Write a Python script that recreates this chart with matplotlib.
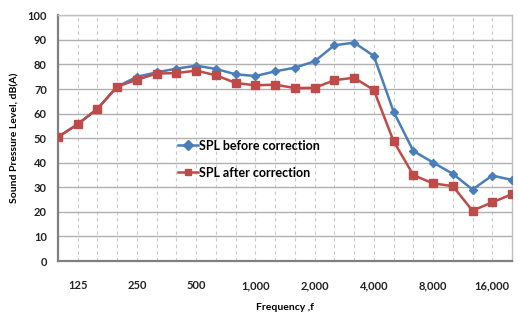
import matplotlib
matplotlib.use("Agg")
import matplotlib.pyplot as plt

# one-third octave bands, Hz
bands = ["100", "125", "160", "200", "250", "315", "400", "500", "630", "800",
         "1,000", "1,250", "1,600", "2,000", "2,500", "3,150", "4,000", "5,000",
         "6,300", "8,000", "10,000", "12,500", "16,000", "20,000"]
spl_before = [50.5, 55.7, 62.0, 71.0, 75.0, 76.8, 78.3, 79.5, 78.2, 76.0,
              75.3, 77.2, 78.7, 81.3, 87.8, 88.9, 83.5, 60.8,
              44.8, 40.1, 35.5, 29.1, 34.8, 33.0]
spl_after = [50.5, 55.7, 62.0, 71.0, 73.8, 76.3, 76.5, 77.5, 75.6, 72.5,
             71.5, 71.8, 70.4, 70.5, 73.6, 74.6, 69.6, 48.8,
             35.0, 31.6, 30.5, 20.5, 23.9, 27.2]
labelled = ["125", "250", "500", "1,000", "2,000", "4,000", "8,000", "16,000"]

BLUE = "#4a7ebb"
RED = "#be4b48"
FONT = "Lato"

fig = plt.figure(figsize=(5.19, 3.13), dpi=100)
ax = fig.add_axes([0.1118, 0.166, 0.8747, 0.785])

x = list(range(len(bands)))
ax.plot(x, spl_before, color=BLUE, lw=1.8, marker="D", ms=4, label="SPL before correction", zorder=3)
ax.plot(x, spl_after, color=RED, lw=1.8, marker="s", ms=6, label="SPL after correction", zorder=4)

ax.set_xlim(0, len(bands) - 1)
ax.set_ylim(0, 100)
ax.set_yticks(range(0, 101, 10))
ax.set_xticks(x, minor=True)
ax.set_xticks([bands.index(b) for b in labelled])
ax.set_xticklabels(labelled)

ax.grid(axis="y", which="major", color="#b0b0b0", lw=1.0)
ax.grid(axis="x", which="both", color="#c8c8c8", lw=0.8, ls=(0, (3, 3)))
ax.tick_params(which="both", length=0)
ax.tick_params(axis="x", pad=14)
ax.tick_params(axis="y", pad=8)
for lab in ax.get_xticklabels() + ax.get_yticklabels():
    lab.set_fontfamily(FONT)
    lab.set_fontweight("bold")
    lab.set_fontsize(8)
    lab.set_color("#222222")

for side in ("left", "bottom"):
    ax.spines[side].set_color("#808080")
    ax.spines[side].set_linewidth(1.6)
for side in ("top", "right"):
    ax.spines[side].set_color("#c0c0c0")
    ax.spines[side].set_linewidth(1.0)

ax.set_xlabel("Frequency ,f", fontfamily=FONT, fontweight="bold", fontsize=7.5, labelpad=8)
ax.set_ylabel("Sound Pressure Level, dB(A)", fontfamily=FONT, fontweight="bold", fontsize=7.5, labelpad=6)

leg = ax.legend(loc="upper left", bbox_to_anchor=(0.24, 0.54), frameon=False,
                handlelength=1.6, handletextpad=0.1, labelspacing=1.2,
                prop={"family": FONT, "weight": "bold", "size": 9})
for h in leg.legend_handles:
    h.set_markersize(5)

fig.savefig("out.png", dpi=100)
